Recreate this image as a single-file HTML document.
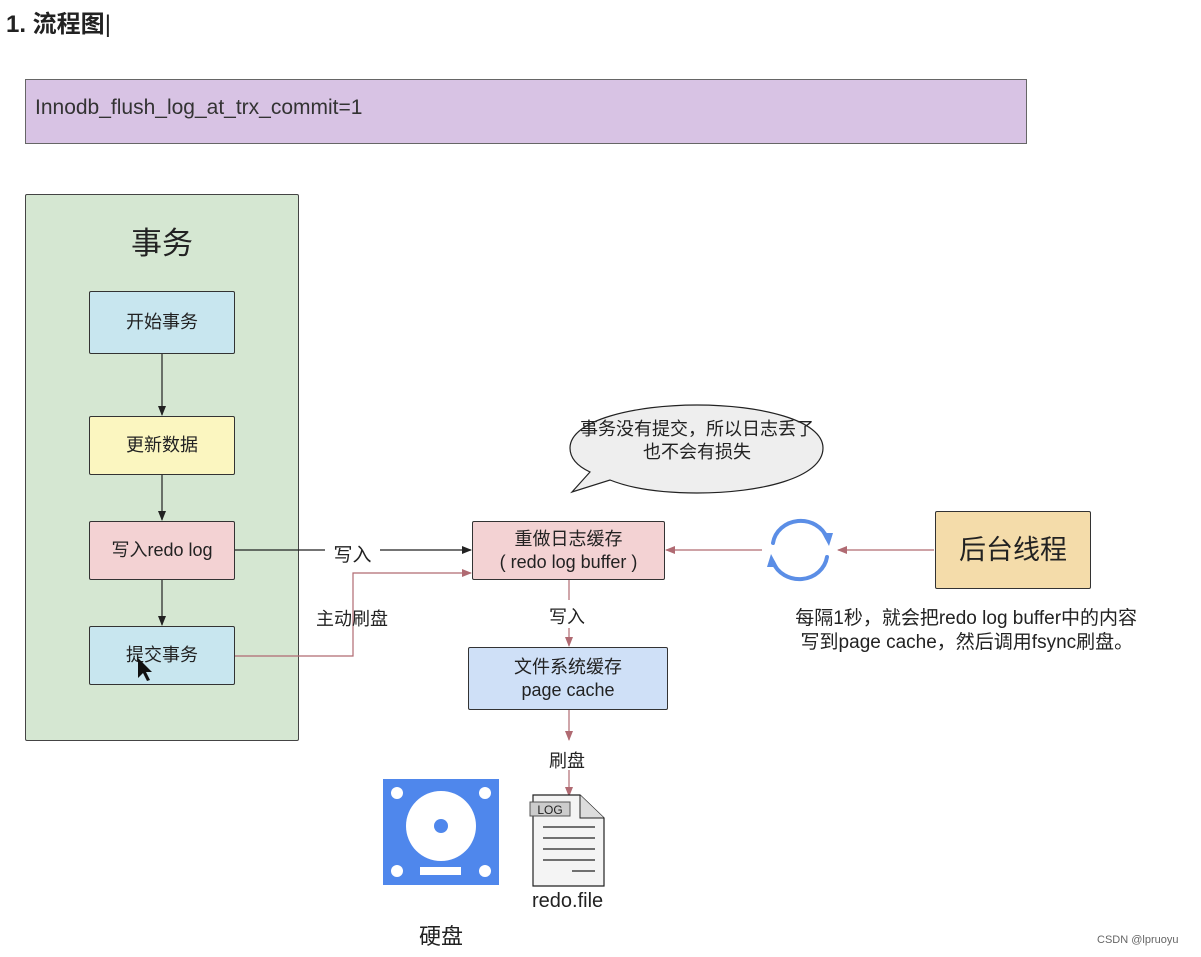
<!DOCTYPE html>
<html><head><meta charset="utf-8"><style>
body{margin:0;width:1201px;height:957px;background:#fff;position:relative;overflow:hidden;font-family:"Liberation Sans","Noto Sans CJK SC",sans-serif;}
.a{position:absolute;box-sizing:border-box;}
.box{border:1px solid #333;border-radius:2px;display:flex;align-items:center;justify-content:center;text-align:center;color:#222;font-size:18px;line-height:23px;}
</style></head><body>
<div class="a" style="left:6px;top:4px;font-size:24px;font-weight:bold;color:#222;">1. 流程图<span style="font-weight:normal">|</span></div>
<div class="a" style="left:25px;top:79px;width:1002px;height:65px;background:#d8c3e4;border:1px solid #666;font-size:21px;color:#333;padding:16px 0 0 9px;">Innodb_flush_log_at_trx_commit=1</div>
<div class="a" style="left:25px;top:194px;width:274px;height:547px;background:#d5e7d2;border:1px solid #444;border-radius:2px;"></div>
<div class="a" style="left:25px;top:218px;width:274px;text-align:center;font-size:31px;color:#222;">事务</div>
<div class="a box" style="left:89px;top:291px;width:146px;height:63px;background:#c8e6ef;">开始事务</div>
<div class="a box" style="left:89px;top:416px;width:146px;height:59px;background:#fbf6c0;">更新数据</div>
<div class="a box" style="left:89px;top:521px;width:146px;height:59px;background:#f3d2d3;">写入redo log</div>
<div class="a box" style="left:89px;top:626px;width:146px;height:59px;background:#c8e6ef;">提交事务</div>
<div class="a box" style="left:472px;top:521px;width:193px;height:59px;background:#f3d2d3;">重做日志缓存<br>( redo log buffer )</div>
<div class="a box" style="left:468px;top:647px;width:200px;height:63px;background:#cfe0f7;">文件系统缓存<br>page cache</div>
<div class="a box" style="left:935px;top:511px;width:156px;height:78px;background:#f4dcaa;font-size:27px;">后台线程</div>
<svg class="a" style="left:0;top:0" width="1201" height="957">
<defs>
<marker id="k" markerWidth="10" markerHeight="8" refX="9" refY="4" orient="auto" markerUnits="userSpaceOnUse"><path d="M0,0L10,4L0,8z" fill="#222"/></marker>
<marker id="r" markerWidth="10" markerHeight="8" refX="9" refY="4" orient="auto" markerUnits="userSpaceOnUse"><path d="M0,0L10,4L0,8z" fill="#b06a72"/></marker>
</defs>
<g stroke="#222" stroke-width="1.2" fill="none">
<line x1="162" y1="354" x2="162" y2="415" marker-end="url(#k)"/>
<line x1="162" y1="475" x2="162" y2="520" marker-end="url(#k)"/>
<line x1="162" y1="580" x2="162" y2="625" marker-end="url(#k)"/>
<line x1="235" y1="550" x2="325" y2="550"/>
<line x1="380" y1="550" x2="471" y2="550" marker-end="url(#k)"/>
</g>
<g stroke="#b06a72" stroke-width="1.2" fill="none">
<polyline points="235,656 353,656 353,573 471,573" marker-end="url(#r)"/>
<line x1="569" y1="580" x2="569" y2="600"/>
<line x1="569" y1="628" x2="569" y2="646" marker-end="url(#r)"/>
<line x1="569" y1="710" x2="569" y2="740" marker-end="url(#r)"/>
<line x1="569" y1="770" x2="569" y2="796" marker-end="url(#r)"/>
<line x1="762" y1="550" x2="666" y2="550" marker-end="url(#r)"/>
<line x1="934" y1="550" x2="838" y2="550" marker-end="url(#r)"/>
</g>
<g stroke="#5b8ee6" stroke-width="4" fill="none" stroke-linecap="round">
<path d="M773,543 A28,26 0 0 1 827,538"/>
<path d="M827,557 A28,26 0 0 1 773,562"/>
</g>
<path d="M822,533 L829,546 L833,533z M778,567 L771,554 L767,567z" fill="#5b8ee6"/>
<path d="M697,405 C760,405 823,420 823,448 C823,478 760,493 697,493 C660,493 630,488 610,480 L572,492 L590,472 C575,465 570,456 570,448 C570,420 635,405 697,405z" fill="#eee" stroke="#222" stroke-width="1.2"/>
<rect x="383" y="779" width="116" height="106" fill="#4f87ec"/>
<circle cx="397" cy="793" r="6" fill="#fff"/><circle cx="485" cy="793" r="6" fill="#fff"/>
<circle cx="397" cy="871" r="6" fill="#fff"/><circle cx="485" cy="871" r="6" fill="#fff"/>
<circle cx="441" cy="826" r="35" fill="#fff"/><circle cx="441" cy="826" r="7" fill="#4f87ec"/>
<rect x="420" y="867" width="41" height="8" fill="#fff"/>
<path d="M533,795 L580,795 L604,818 L604,886 L533,886z" fill="#f4f4f4" stroke="#222" stroke-width="1.2"/>
<path d="M580,795 L580,818 L604,818" fill="#ddd" stroke="#222" stroke-width="1"/>
<rect x="530" y="802" width="40" height="14" fill="#ccc" stroke="#555"/>
<text x="550" y="814" font-size="12" text-anchor="middle" fill="#222" font-family="Liberation Sans">LOG</text>
<g stroke="#222" stroke-width="1.2"><line x1="543" y1="827" x2="595" y2="827"/><line x1="543" y1="838" x2="595" y2="838"/><line x1="543" y1="849" x2="595" y2="849"/><line x1="543" y1="860" x2="595" y2="860"/><line x1="572" y1="871" x2="595" y2="871"/></g>
<path d="M138,658 L138,678 L143,673 L147,681 L150,680 L146,672 L152,672z" fill="#111"/>
</svg>
<div class="a" style="left:566px;top:418px;width:262px;text-align:center;font-size:18px;line-height:23px;color:#222;">事务没有提交，所以日志丢了<br>也不会有损失</div>
<div class="a" style="left:325px;top:540px;width:55px;text-align:center;font-size:19px;color:#222;">写入</div>
<div class="a" style="left:316px;top:605px;font-size:18px;color:#222;">主动刷盘</div>
<div class="a" style="left:549px;top:603px;font-size:18px;color:#222;">写入</div>
<div class="a" style="left:549px;top:747px;font-size:18px;color:#222;">刷盘</div>
<div class="a" style="left:532px;top:890px;font-size:20px;color:#222;">redo.file</div>
<div class="a" style="left:419px;top:919px;font-size:22px;color:#222;">硬盘</div>
<div class="a" style="left:790px;top:607px;width:400px;font-size:19px;line-height:24px;color:#222;">&nbsp;每隔1秒，就会把redo log buffer中的内容<br>&nbsp;&nbsp;写到page cache，然后调用fsync刷盘。</div>
<div class="a" style="left:1097px;top:934px;font-size:11px;color:#666;">CSDN @lpruoyu</div>
</body></html>
